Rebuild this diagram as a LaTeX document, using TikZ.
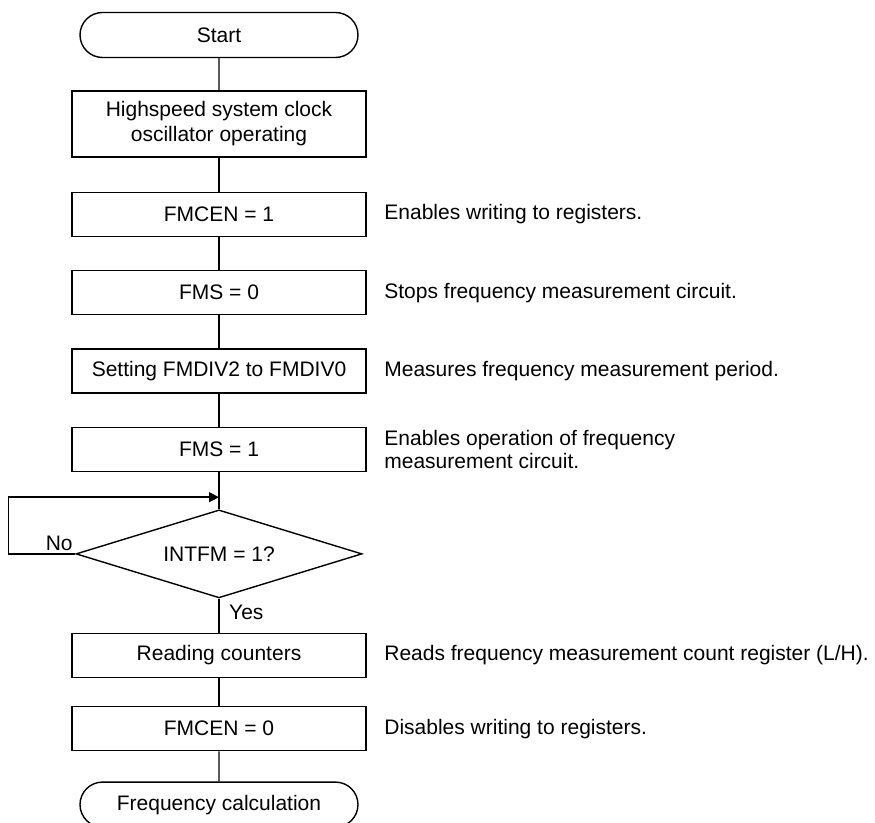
\documentclass[tikz,border=0pt]{standalone}
\usepackage{fontspec}
\setmainfont{Liberation Sans}
\usetikzlibrary{arrows.meta,positioning,shapes.geometric,shapes.misc}

\begin{document}
\begin{tikzpicture}[every node/.style={font=\fontsize{10.5}{12.5}\selectfont, inner sep=2pt}, line width=0.7pt,
  proc/.style={draw, minimum width=147pt, minimum height=22pt, align=center},
  term/.style={draw, rounded rectangle, minimum width=143pt, minimum height=22.5pt},
  decide/.style={draw, diamond, aspect=3.2, minimum width=143pt, minimum height=44pt, inner sep=0pt},
  note/.style={inner sep=0pt, align=left, font=\fontsize{10.5}{11.5}\selectfont},
  >={Triangle[length=5pt,width=5pt]}]
\useasboundingbox (0,0) rectangle (437.5pt,-411.5pt);
\node[term] (start) at (109.5pt,-17.5pt) {Start};
\node[proc, below=16pt of start, minimum height=33pt] (osc) {Highspeed system clock\\oscillator operating};
\node[proc, below=17pt of osc] (fmcen1) {FMCEN = 1};
\node[proc, below=16.5pt of fmcen1] (fms0) {FMS = 0};
\node[proc, below=16.5pt of fms0] (div) {Setting FMDIV2 to FMDIV0};
\node[proc, below=16.5pt of div] (fms1) {FMS = 1};
\coordinate[below=12.5pt of fms1] (merge);
\node[decide, below=6pt of merge] (check) {INTFM = 1?};
\node[proc, below=17pt of check] (read) {Reading counters};
\node[proc, below=14pt of read] (fmcen0) {FMCEN = 0};
\node[term, below=15pt of fmcen0] (stop) {Frequency calculation};
% notes on the right
\node[note, right=8.5pt of fmcen1] (n1) {Enables writing to registers.};
\node[note, right=8.5pt of fms0] (n2) {Stops frequency measurement circuit.};
\node[note, right=8.5pt of div] (n3) {Measures frequency measurement period.};
\node[note, right=8.5pt of fms1] (n4) {Enables operation of frequency\\measurement circuit.};
\node[note, right=8.5pt of read] (n5) {Reads frequency measurement count register (L/H).};
\node[note, right=8.5pt of fmcen0] (n6) {Disables writing to registers.};
% branch labels
\node[inner sep=1pt, above left=0pt and 0pt of check.west] (no) {No};
\node[inner sep=1pt, below right=2pt and 3.75pt of check.south] (yes) {Yes};
\draw (start)--(osc); \draw (osc)--(fmcen1); \draw (fmcen1)--(fms0); \draw (fms0)--(div); \draw (div)--(fms1);
\draw (fms1)--(check); \draw (check)--(read); \draw (read)--(fmcen0); \draw (fmcen0)--(stop);
\draw[->] (check.west) -- ++(-33.5pt,0) |- (merge);
\end{tikzpicture}
\end{document}
